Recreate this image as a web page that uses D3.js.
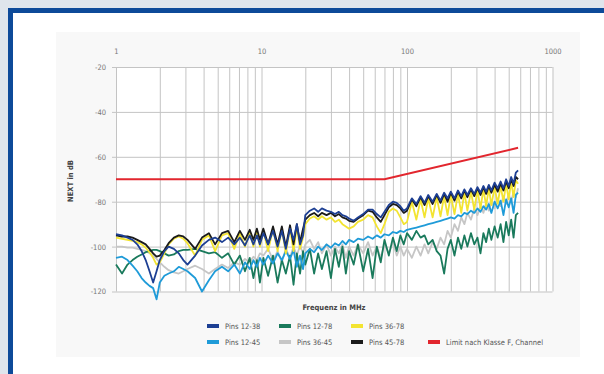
<!DOCTYPE html>
<html><head><meta charset="utf-8">
<script src="https://cdn.jsdelivr.net/npm/d3@7"></script>
<style>body{margin:0;background:#dfe5ec;}svg{display:block;}</style>
</head><body>
<svg id="c" width="604" height="374"></svg>
<script>
const freqs = [
 1,1.1,1.2,1.3,1.4,1.5,1.6,1.7,1.8,1.9,2.0,2.15,2.3,2.5,2.7,2.9,3.1,3.5,3.9,4.35,4.8,5.35,5.9,6.5,7.1,7.7,8.3,8.8,9.3,9.75,
 10.3,11.1,12,12.9,13.8,14.7,15.7,16.6,17.5,18.4,19.3,
 20,21.5,23,24.5,26,28,30,32,34,36,38,40,43,46,50,54,58,62,66,70,75,80,85,90,95,
 100,108,116,124,132,140,150,160,170,180,190,200,212,224,236,248,260,275,290,305,320,335,350,365,380,400,420,440,460,480,500,520,540,560,580];

const pins1238 = [
 -94.5,-95,-96,-97,-99,-102,-106,-111,-116,-111,-106,-102,-100,-101,-103,-106,-108,-104,-99.5,-97,-96,-98,-96,-99,-96,-99.5,-95,-99,-95,-99,
 -94,-99,-93,-100,-93,-101,-92,-97,-90,-99,-95,
 -86,-84,-83,-84.5,-83,-84,-84.5,-85.5,-84.5,-86,-86.5,-87.5,-88.5,-87,-85.5,-83.5,-83.5,-85.5,-87,-84.5,-81.5,-80,-80.5,-82,-84,
 -83,-78.5,-81,-77.5,-80.5,-77,-80,-76.5,-79.5,-76,-78.5,-75.5,-78.5,-75,-77.5,-74.5,-77,-74,-76.5,-73.5,-76,-73,-75.5,-72.5,-75,-71.5,-74,-71,-74,-70,-73,-69,-72,-67,-66];

const pins4578 = [
 -95,-95.5,-95.5,-96,-97,-98,-99,-101,-103,-104.5,-104,-101.5,-98.5,-96,-95,-95.5,-97,-101,-96,-94,-99,-94,-93,-98,-93,-97,-92.5,-97,-92,-97,
 -92,-99,-91,-99,-91,-100,-90.5,-99,-90,-98,-92,
 -88,-86,-85,-86.5,-85,-86,-85,-86.5,-85.5,-87,-87.5,-88.5,-89,-87.5,-86,-84,-84.5,-87,-89,-86,-82.5,-81,-81.5,-83,-85,
 -84,-79,-82,-78,-81.5,-77.5,-81,-77,-80.5,-76.5,-80,-76,-79.5,-75.5,-78.5,-75,-78,-74.5,-77.5,-74,-77,-73.5,-76.5,-73,-76,-72.5,-75.5,-72,-75,-71,-74,-70,-73,-69,-70];

const pins3678 = [
 -96,-96.5,-97,-97.5,-98,-99,-100.5,-102.5,-105,-108,-107,-103,-99,-96.5,-95.5,-96.5,-98.5,-104,-97,-95,-102,-95,-94,-101,-94,-100,-93.5,-100,-93,-100,
 -93,-102,-92,-102,-92,-103,-91.5,-102,-91,-101,-96,
 -90,-87.5,-86.5,-88,-86.5,-88,-87,-89,-88,-90,-91,-92,-91,-89,-88,-86,-87,-91,-94,-90,-84.5,-83,-84,-87,-90,
 -89,-80,-88,-79,-87,-78.5,-87,-78,-86.5,-77.5,-86,-77,-85.5,-76.5,-85,-76,-84,-75.5,-83.5,-75,-83,-74.5,-82,-74,-81.5,-73.5,-81,-73,-80,-72,-79,-71,-78,-70.5,-72];

const pins3645 = [
 -100,-100,-100.5,-100.5,-101,-101.5,-102,-103,-104,-105.5,-107,-109,-110.5,-111.5,-112,-111,-110,-108.5,-110,-112,-110,-108,-109.5,-107,-108,-105.5,-107,-104.5,-106,-103,
 -104,-101,-106,-102,-107,-101,-105,-100,-104,-99.5,-103,
 -99,-97,-101,-98,-103,-99,-104,-100,-103,-99,-105,-100,-104,-99,-103,-98,-104,-100,-105,-99,-103,-98,-104,-100,-104,
 -101,-105,-100,-104,-99,-103,-98,-101,-96,-99,-93,-96,-90,-93,-87,-90,-85,-88,-83,-86,-82,-85,-80.5,-84,-79.5,-83,-78.5,-82,-77.5,-81,-76.5,-80,-75.5,-78,-74];

const pins1245 = [
 -105,-104.5,-106,-108.5,-111,-114,-116,-117.5,-118.5,-123.5,-116,-113,-112,-111,-109,-110,-111,-114,-120,-115,-111,-109,-111,-108,-112,-107,-110,-106,-109,-105,
 -108,-104,-107.5,-103,-106,-102,-105.5,-101.5,-109,-104,-110,
 -103,-101,-102.5,-100,-101.5,-99,-100.5,-98.5,-99.5,-97.5,-99,-97,-98,-96.5,-97,-95.5,-96.5,-95,-96,-94.5,-95,-93.5,-94,-93,-93.5,
 -92.5,-92,-91.5,-91,-90.5,-90,-89.5,-89,-88.5,-88,-87.5,-87,-87.5,-86,-86.5,-85,-85.5,-84,-85,-83,-84.5,-82,-83.5,-81,-85,-80,-83,-79.5,-86,-79,-82.5,-78.5,-85,-77,-76];

const pins1278 = [
 -108,-112,-108,-106,-104.5,-103.5,-102.5,-102,-101.5,-101.5,-102,-103,-104,-103.5,-102,-101.5,-101.5,-101,-102,-103,-102.5,-105,-103,-108,-104,-111,-105,-114,-106,-116,
 -105,-113,-104,-116,-106,-112,-104,-117,-103,-112,-102,
 -108,-101,-112,-103,-110,-102,-114,-101,-109,-100,-112,-102,-108,-99,-111,-101,-114,-100,-107,-97,-104,-96,-102,-95,-99,
 -94,-97,-93,-96,-95,-99,-97,-102,-104,-112,-101,-97,-104,-96,-101,-95,-100,-94,-99,-96,-103,-94,-98,-92,-97,-91,-96,-90,-98,-89,-95,-88,-96,-86,-85];

const limitFreqs = [1, 70, 580];
const limitValues = [-70, -70, -56];

const xTickLabels = [1, 10, 100, 1000];
const yTickLabels = [-20, -40, -60, -80, -100, -120];

const seriesNames = ["Pins 12-38","Pins 12-78","Pins 36-78","Pins 12-45","Pins 36-45","Pins 45-78","Limit nach Klasse F, Channel"];
const seriesColors = ["#1d3f93","#1a7a5c","#f3e431","#1f9bd8","#c6c6c6","#1b1b1b","#e2262e"];

const svg = d3.select("#c");
const FONT = "'Liberation Sans Narrow','DejaVu Sans Condensed','Roboto Condensed','Liberation Sans',sans-serif";

svg.append("rect").attr("x",0).attr("y",0).attr("width",604).attr("height",374).attr("fill","#dfe5ec");
svg.append("rect").attr("x",8).attr("y",8).attr("width",600).attr("height",370).attr("fill","#0d4a99");
svg.append("rect").attr("x",13).attr("y",13).attr("width",595).attr("height",365).attr("fill","#ffffff");
svg.append("rect").attr("x",56).attr("y",32).attr("width",524).attr("height",325).attr("fill","#f8f8f8");

const x = d3.scaleLog().domain([1,1000]).range([116,552.5]);
const y = d3.scaleLinear().domain([-20,-120]).range([67,291.5]);

svg.append("rect").attr("x",x(1)).attr("y",y(-20)).attr("width",x(1000)-x(1)).attr("height",y(-120)-y(-20)).attr("fill","#ffffff");

const gx = svg.append("g").attr("transform",`translate(0,${y(-120)})`)
  .call(d3.axisBottom(x).tickSize(-(y(-120)-y(-20))).tickFormat(""));
gx.select(".domain").remove();
gx.selectAll("line").attr("stroke","#c4c4c4").attr("stroke-width",1);

const gy = svg.append("g").attr("transform",`translate(${x(1000)},0)`)
  .call(d3.axisLeft(y).tickValues(yTickLabels).tickSize(x(1000)-x(1)+4).tickFormat(""));
gy.select(".domain").remove();
gy.selectAll("line").attr("stroke","#c4c4c4").attr("stroke-width",1);

const ax = svg.append("g").attr("transform",`translate(0,${y(-20)-10})`)
  .call(d3.axisTop(x).tickValues(xTickLabels).tickSize(0).tickFormat(d => String(d)));
ax.select(".domain").remove();
ax.selectAll("text").attr("font-family",FONT).attr("font-size",7.5).attr("fill","#777");

const ay = svg.append("g").attr("transform",`translate(${x(1)-8},0)`)
  .call(d3.axisLeft(y).tickValues(yTickLabels).tickSize(0).tickPadding(2).tickFormat(d => String(d)));
ay.select(".domain").remove();
ay.selectAll("text").attr("font-family",FONT).attr("font-size",7.5).attr("fill","#777");

svg.append("text").attr("transform","translate(73,181) rotate(-90)").attr("text-anchor","middle")
  .attr("font-family",FONT).attr("font-size",7.5).attr("font-weight","bold").attr("fill","#444").text("NEXT in dB");
svg.append("text").attr("x",334).attr("y",310).attr("text-anchor","middle")
  .attr("font-family",FONT).attr("font-size",7.5).attr("font-weight","bold").attr("fill","#444").text("Frequenz in MHz");

const line = d3.line().defined(d => d.v != null && !isNaN(d.v)).x(d => x(d.f)).y(d => y(d.v));
const mk = arr => freqs.map((f,i) => ({f, v: arr[i]}));

const drawOrder = [
  [pins3645, 4],
  [pins1278, 1],
  [pins1245, 3],
  [pins3678, 2],
  [pins4578, 5],
  [pins1238, 0]
];
drawOrder.forEach(([arr, ci]) => {
  svg.append("path").datum(mk(arr)).attr("d", line).attr("fill","none")
    .attr("stroke", seriesColors[ci]).attr("stroke-width",1.8).attr("stroke-linejoin","round");
});
svg.append("path").datum(limitFreqs.map((f,i)=>({f, v: limitValues[i]}))).attr("d", line)
  .attr("fill","none").attr("stroke", seriesColors[6]).attr("stroke-width",2);

const legendPos = [[207,326],[279,326],[351,326],[207,342],[279,342],[351,342],[428,342]];
seriesNames.forEach((name,k) => {
  const [lx,ly] = legendPos[k];
  svg.append("rect").attr("x",lx).attr("y",ly-2).attr("width",12).attr("height",4).attr("fill",seriesColors[k]);
  svg.append("text").attr("x",lx+18).attr("y",ly+2.5).attr("font-family",FONT).attr("font-size",7.5)
    .attr("fill","#555").text(name);
});
</script>
</body></html>
